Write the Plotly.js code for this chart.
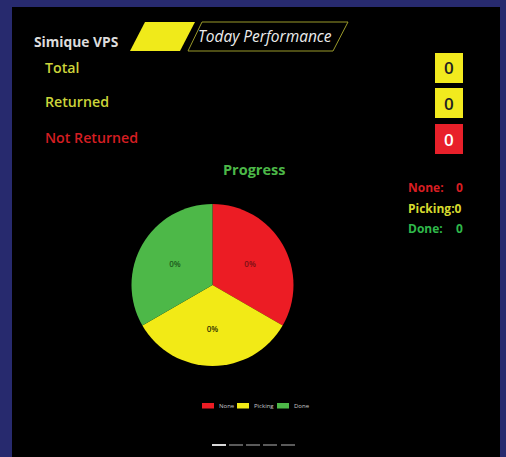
<!DOCTYPE html>
<html>
<head>
<meta charset="utf-8">
<script src="https://cdn.plot.ly/plotly-3.0.1.min.js"></script>
<style>html,body{margin:0;padding:0;background:#272a6e;}#chart{width:506px;height:457px;}</style>
</head>
<body>
<div id="chart"></div>
<script>
// ---- data ----
const categories = ['None', 'Picking', 'Done'];
const counts = [0, 0, 0];                 // counts shown in the stats and slice labels
const sliceShares = [1, 1, 1];            // slices are drawn as equal thirds in the picture
const summaryLabels = ['Total', 'Returned', 'Not Returned'];
const summaryValues = [0, 0, 0];
const chartTitle = 'Progress';
const headerName = 'Simique VPS';
const headerTitle = 'Today Performance';

// ---- styles ----
const W = 506, H = 457;
const px = x => x / W;
const py = y => 1 - y / H;
const sliceColors = ['#ec1c24', '#f2ea16', '#4db848'];
const sliceTextColors = ['#7a1014', '#333300', '#1c5a1c'];
const statColors = ['#d81e22', '#d6da2e', '#2fb84a'];
const summaryColors = ['#ccd43a', '#ccd43a', '#d41e22'];
const boxFill = ['#f2ea1e', '#f2ea1e', '#e8202a'];
const boxText = ['#222222', '#222222', '#ffffff'];

const shapes = [];
const annotations = [];

// background panel
shapes.push({type: 'rect', xref: 'paper', yref: 'paper', x0: px(12), x1: px(500), y0: 0, y1: py(7),
  fillcolor: '#000000', line: {width: 0}, layer: 'below'});

// header parallelograms
function pathP(pts) {
  return 'M ' + pts.map(p => px(p[0]) + ' ' + py(p[1])).join(' L ') + ' Z';
}
shapes.push({type: 'path', xref: 'paper', yref: 'paper',
  path: pathP([[145, 22], [195, 22], [180, 51], [130, 51]]), fillcolor: '#f0ea1a', line: {width: 0}});
shapes.push({type: 'path', xref: 'paper', yref: 'paper',
  path: pathP([[202, 22], [348, 22], [333, 51], [188, 51]]), fillcolor: 'rgba(0,0,0,0)', line: {color: '#9a9a2a', width: 1}});

annotations.push({xref: 'paper', yref: 'paper', x: px(32), y: py(42), xanchor: 'left', yanchor: 'middle',
  text: headerName, showarrow: false, font: {family: 'Open Sans', size: 13.8, color: '#dcdcdc', weight: 700}});
annotations.push({xref: 'paper', yref: 'paper', x: px(265), y: py(36), xanchor: 'center', yanchor: 'middle',
  text: '<i>' + headerTitle + '</i>', showarrow: false, font: {family: 'Open Sans', size: 15.5, color: '#ececec'}});

// summary labels and boxes
const rowY = [68, 101, 137];
const boxTop = [53, 88, 124];
summaryLabels.forEach((lab, i) => {
  annotations.push({xref: 'paper', yref: 'paper', x: px(43), y: py(rowY[i]), xanchor: 'left', yanchor: 'middle',
    text: lab, showarrow: false, font: {family: 'Open Sans', size: 14.2, color: summaryColors[i], weight: 600}});
  shapes.push({type: 'rect', xref: 'paper', yref: 'paper', x0: px(435), x1: px(463), y0: py(boxTop[i] + 30), y1: py(boxTop[i]),
    fillcolor: boxFill[i], line: {width: 0}});
  annotations.push({xref: 'paper', yref: 'paper', x: px(449), y: py(boxTop[i] + 15), xanchor: 'center', yanchor: 'middle',
    text: String(summaryValues[i]), showarrow: false, font: {family: 'Open Sans', size: 17, color: boxText[i], weight: 600}});
});

// right stats
const statY = [187, 208, 228];
categories.forEach((c, i) => {
  if (c === 'Picking') {
    annotations.push({xref: 'paper', yref: 'paper', x: px(406), y: py(statY[i]), xanchor: 'left', yanchor: 'middle',
      text: c + ':' + counts[i], showarrow: false, font: {family: 'Open Sans', size: 12, color: statColors[i], weight: 700}});
  } else {
    annotations.push({xref: 'paper', yref: 'paper', x: px(406), y: py(statY[i]), xanchor: 'left', yanchor: 'middle',
      text: c + ':', showarrow: false, font: {family: 'Open Sans', size: 12, color: statColors[i], weight: 700}});
    annotations.push({xref: 'paper', yref: 'paper', x: px(459), y: py(statY[i]), xanchor: 'center', yanchor: 'middle',
      text: String(counts[i]), showarrow: false, font: {family: 'Open Sans', size: 12, color: statColors[i], weight: 700}});
  }
});

// chart title
annotations.push({xref: 'paper', yref: 'paper', x: px(254), y: py(170), xanchor: 'center', yanchor: 'middle',
  text: chartTitle, showarrow: false, font: {family: 'Open Sans', size: 14.5, color: '#4cb848', weight: 700}});

// manual legend
const legX = [202, 237, 277];
categories.forEach((c, i) => {
  shapes.push({type: 'rect', xref: 'paper', yref: 'paper', x0: px(legX[i]), x1: px(legX[i] + 12), y0: py(408.5), y1: py(403),
    fillcolor: sliceColors[i], line: {width: 0}});
  annotations.push({xref: 'paper', yref: 'paper', x: px(legX[i] + 15), y: py(405.5), xanchor: 'left', yanchor: 'middle',
    text: c, showarrow: false, font: {family: 'Open Sans', size: 6, color: '#c8c8c8'}});
});

// page indicator
const dashX = [212, 229, 246, 263, 281];
dashX.forEach((x, i) => {
  shapes.push({type: 'line', xref: 'paper', yref: 'paper', x0: px(x), x1: px(x + 14), y0: py(445), y1: py(445),
    line: {color: i === 0 ? '#d8d8d8' : '#5a5a5a', width: 2}});
});

const trace = {
  type: 'pie',
  labels: categories,
  values: sliceShares,
  text: counts.map(v => v + '%'),
  textinfo: 'text',
  textposition: 'inside',
  insidetextorientation: 'horizontal',
  insidetextfont: {family: 'Open Sans', size: 8, color: sliceTextColors, weight: 600},
  marker: {colors: sliceColors, line: {width: 0}},
  sort: false,
  direction: 'clockwise',
  rotation: 0,
  hoverinfo: 'none',
  showlegend: false,
  domain: {x: [px(131.5), px(293.5)], y: [py(366), py(204)]}
};

const layout = {
  width: W, height: H,
  margin: {l: 0, r: 0, t: 0, b: 0},
  paper_bgcolor: '#272a6e',
  plot_bgcolor: 'rgba(0,0,0,0)',
  showlegend: false,
  shapes: shapes,
  annotations: annotations
};

Plotly.newPlot('chart', [trace], layout, {displayModeBar: false, staticPlot: true});
</script>
</body>
</html>
